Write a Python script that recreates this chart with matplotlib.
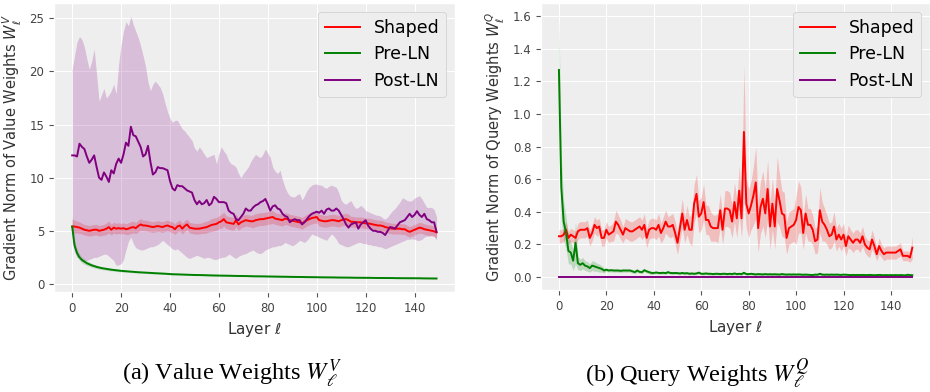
import numpy as np
import matplotlib
matplotlib.use("Agg")
import matplotlib.pyplot as plt

# layers 0..149
layers = np.arange(150)

# ---- (a) value weights ----
v_shaped_mean = [
    5.4, 5.4, 5.35, 5.3, 5.2, 5.1, 5.05, 5.0, 5.05, 5.1,
    5.1, 5.0, 5.05, 5.1, 5.2, 5.35, 5.1, 5.3, 5.2, 5.25,
    5.2, 5.25, 5.15, 5.2, 5.3, 5.35, 5.25, 5.45, 5.6, 5.5,
    5.5, 5.45, 5.4, 5.35, 5.4, 5.45, 5.4, 5.35, 5.45, 5.5,
    5.4, 5.35, 5.15, 5.4, 5.5, 5.2, 5.45, 5.6, 5.3, 5.25,
    5.2, 5.2, 5.2, 5.25, 5.3, 5.35, 5.45, 5.55, 5.6, 5.65,
    5.8, 5.9, 6.1, 5.8, 5.75, 5.7, 5.65, 6.0, 5.6, 5.8,
    5.9, 6.0, 5.95, 5.9, 5.9, 6.0, 6.05, 6.1, 6.1, 6.15,
    6.2, 6.25, 6.3, 6.15, 6.1, 6.05, 6.0, 6.15, 6.1, 6.0,
    5.95, 5.9, 5.85, 5.8, 5.7, 5.85, 6.0, 6.1, 6.2, 6.25,
    6.3, 6.0, 5.95, 5.9, 5.9, 5.95, 6.0, 6.0, 5.95, 5.9,
    6.0, 6.05, 6.1, 6.0, 5.85, 5.85, 5.8, 5.8, 5.8, 5.75,
    5.7, 5.7, 5.65, 5.6, 5.55, 5.5, 5.5, 5.45, 5.35, 5.3,
    5.25, 5.2, 5.2, 5.2, 5.2, 5.15, 5.15, 5.0, 4.9, 5.0,
    5.1, 5.2, 5.3, 5.25, 5.15, 5.1, 5.05, 5.0, 4.95, 4.85]
v_shaped_err = [
    0.7, 0.6, 0.55, 0.55, 0.5, 0.5, 0.5, 0.5, 0.5, 0.5,
    0.5, 0.5, 0.5, 0.5, 0.55, 0.55, 0.5, 0.5, 0.5, 0.5,
    0.5, 0.5, 0.5, 0.55, 0.55, 0.55, 0.5, 0.55, 0.55, 0.5,
    0.5, 0.5, 0.5, 0.5, 0.5, 0.5, 0.5, 0.5, 0.5, 0.5,
    0.5, 0.5, 0.5, 0.5, 0.5, 0.5, 0.5, 0.5, 0.5, 0.5,
    0.5, 0.5, 0.5, 0.5, 0.55, 0.55, 0.55, 0.6, 0.6, 0.6,
    0.6, 0.65, 0.65, 0.6, 0.6, 0.6, 0.6, 0.6, 0.55, 0.55,
    0.55, 0.55, 0.55, 0.55, 0.6, 0.6, 0.6, 0.6, 0.6, 0.6,
    0.6, 0.6, 0.6, 0.55, 0.55, 0.55, 0.55, 0.55, 0.55, 0.55,
    0.55, 0.55, 0.55, 0.55, 0.55, 0.55, 0.55, 0.55, 0.55, 0.55,
    0.55, 0.55, 0.55, 0.55, 0.55, 0.55, 0.55, 0.55, 0.55, 0.55,
    0.55, 0.55, 0.55, 0.55, 0.5, 0.5, 0.5, 0.5, 0.5, 0.5,
    0.5, 0.5, 0.5, 0.5, 0.5, 0.5, 0.5, 0.5, 0.5, 0.5,
    0.5, 0.5, 0.5, 0.5, 0.5, 0.5, 0.5, 0.5, 0.5, 0.5,
    0.5, 0.5, 0.5, 0.5, 0.5, 0.5, 0.5, 0.5, 0.5, 0.5]

v_pre_mean = [
    5.4, 3.6, 2.9, 2.5, 2.25, 2.1, 1.95, 1.85, 1.75, 1.67,
    1.6, 1.54, 1.49, 1.45, 1.41, 1.37, 1.34, 1.31, 1.28, 1.25,
    1.23, 1.21, 1.19, 1.17, 1.15, 1.13, 1.12, 1.10, 1.09, 1.07,
    1.06, 1.05, 1.03, 1.02, 1.01, 1.00, 0.99, 0.97, 0.96, 0.94,
    0.92, 0.91, 0.91, 0.90, 0.89, 0.88, 0.87, 0.87, 0.86, 0.85,
    0.84, 0.84, 0.83, 0.83, 0.82, 0.81, 0.81, 0.80, 0.80, 0.79,
    0.78, 0.78, 0.78, 0.77, 0.77, 0.76, 0.76, 0.75, 0.75, 0.74,
    0.74, 0.74, 0.73, 0.73, 0.72, 0.72, 0.71, 0.71, 0.71, 0.70,
    0.70, 0.70, 0.69, 0.69, 0.68, 0.68, 0.68, 0.67, 0.67, 0.66,
    0.66, 0.66, 0.65, 0.65, 0.65, 0.64, 0.64, 0.64, 0.63, 0.63,
    0.63, 0.62, 0.62, 0.62, 0.61, 0.61, 0.61, 0.61, 0.60, 0.60,
    0.60, 0.60, 0.59, 0.59, 0.59, 0.58, 0.58, 0.58, 0.58, 0.57,
    0.57, 0.57, 0.57, 0.56, 0.56, 0.56, 0.56, 0.55, 0.55, 0.55,
    0.55, 0.55, 0.54, 0.54, 0.54, 0.54, 0.54, 0.53, 0.53, 0.53,
    0.53, 0.53, 0.53, 0.52, 0.52, 0.52, 0.52, 0.52, 0.51, 0.51]
v_pre_err = [
    1.0, 0.45, 0.35, 0.3, 0.27, 0.25, 0.22, 0.2, 0.18, 0.17,
    0.16, 0.15, 0.14, 0.13, 0.13, 0.12, 0.12, 0.11, 0.11, 0.1,
    0.1, 0.1, 0.09, 0.09, 0.09, 0.09, 0.08, 0.08, 0.08, 0.08,
    0.08, 0.07, 0.07, 0.07, 0.07, 0.07, 0.07, 0.07, 0.07, 0.07,
    0.06, 0.06, 0.06, 0.06, 0.06, 0.06, 0.06, 0.06, 0.06, 0.06,
    0.06, 0.06, 0.06, 0.06, 0.06, 0.06, 0.06, 0.06, 0.06, 0.06,
    0.05, 0.05, 0.05, 0.05, 0.05, 0.05, 0.05, 0.05, 0.05, 0.05,
    0.05, 0.05, 0.05, 0.05, 0.05, 0.05, 0.05, 0.05, 0.05, 0.05,
    0.05, 0.05, 0.05, 0.05, 0.05, 0.05, 0.05, 0.05, 0.05, 0.05,
    0.05, 0.05, 0.05, 0.05, 0.05, 0.05, 0.05, 0.05, 0.05, 0.05,
    0.04, 0.04, 0.04, 0.04, 0.04, 0.04, 0.04, 0.04, 0.04, 0.04,
    0.04, 0.04, 0.04, 0.04, 0.04, 0.04, 0.04, 0.04, 0.04, 0.04,
    0.04, 0.04, 0.04, 0.04, 0.04, 0.04, 0.04, 0.04, 0.04, 0.04,
    0.04, 0.04, 0.04, 0.04, 0.04, 0.04, 0.04, 0.04, 0.04, 0.04,
    0.04, 0.04, 0.04, 0.04, 0.04, 0.04, 0.04, 0.04, 0.04, 0.04]

v_post_mean = [
    12.1, 12.1, 12.0, 13.2, 12.9, 12.7, 12.0, 11.4, 11.7, 12.1,
    11.0, 10.0, 9.8, 10.5, 10.1, 9.6, 10.7, 10.4, 11.3, 11.8,
    11.4, 12.2, 13.3, 13.0, 14.8, 14.0, 13.9, 13.4, 12.9, 12.0,
    12.2, 13.0, 11.5, 10.3, 10.5, 11.0, 10.9, 10.9, 10.8, 10.7,
    9.7, 9.0, 8.8, 9.3, 9.2, 9.2, 9.0, 8.8, 8.7, 8.6,
    7.9, 7.5, 7.8, 7.5, 7.6, 7.9, 7.4, 7.6, 8.2, 8.0,
    7.7, 7.7, 7.7, 7.6, 6.9, 6.7, 6.6, 6.1, 6.0, 6.3,
    6.6, 7.1, 6.9, 6.9, 7.2, 7.4, 7.5, 7.7, 7.8, 8.0,
    7.5, 6.9, 7.3, 7.4, 7.1, 7.0, 6.6, 6.4, 6.3, 5.8,
    6.0, 6.1, 6.0, 6.0, 5.6, 5.8, 6.1, 6.4, 6.6, 6.7,
    6.8, 6.7, 6.9, 6.6, 7.0, 7.1, 6.9, 6.9, 7.1, 6.9,
    6.5, 6.1, 5.6, 5.3, 5.6, 5.7, 5.8, 5.2, 5.6, 5.8,
    6.0, 5.5, 5.2, 5.0, 5.0, 4.9, 4.9, 4.8, 4.6, 5.0,
    5.35, 5.3, 5.2, 5.5, 5.8, 5.9, 6.0, 6.3, 6.6, 6.3,
    6.5, 6.85, 6.5, 6.3, 6.6, 6.1, 6.0, 5.8, 5.8, 4.9]
v_post_hi = [
    20.2, 21.5, 22.8, 23.3, 23.0, 22.3, 21.2, 20.2, 21.0, 22.1,
    19.7, 17.2, 17.8, 18.4, 17.5, 17.8, 18.2, 18.8, 17.9, 20.7,
    22.5, 23.8, 24.7, 24.3, 25.2, 24.4, 23.8, 23.2, 22.4, 21.5,
    20.5, 19.0, 18.2, 18.8, 19.1, 18.8, 18.5, 17.9, 17.0, 16.2,
    15.6, 15.2, 15.4, 15.4, 15.0, 14.6, 14.4, 14.1, 13.8, 13.5,
    12.8, 12.5, 12.9, 12.6, 12.2, 11.9, 12.0, 12.1, 12.2, 11.3,
    12.3, 12.9, 12.5, 12.2, 11.6, 11.3, 11.2, 11.0, 10.4, 10.0,
    10.4, 10.7, 11.0, 11.5, 11.9, 12.2, 12.0, 11.9, 12.2, 12.7,
    12.3, 11.9, 11.0, 10.6, 10.4, 10.7, 9.8, 9.1, 8.6, 8.3,
    8.2, 8.2, 8.4, 8.5, 7.9, 8.3, 8.8, 9.1, 9.3, 9.4,
    9.4, 9.3, 9.3, 9.1, 9.0, 9.2, 9.3, 9.2, 9.1, 8.6,
    7.9, 7.6, 7.5, 7.7, 7.85, 7.4, 7.1, 7.2, 7.4, 7.2,
    6.9, 6.8, 6.7, 6.6, 6.5, 6.45, 6.4, 6.2, 6.1, 6.3,
    6.6, 6.9, 7.1, 7.4, 7.7, 8.1, 8.0, 7.85, 7.8, 7.85,
    8.1, 8.2, 8.3, 8.0, 7.6, 7.2, 7.2, 7.2, 7.0, 6.3]
v_post_lo = [
    4.0, 3.0, 2.5, 2.5, 2.3, 2.2, 2.2, 2.3, 2.4, 2.5,
    2.5, 2.6, 2.7, 2.8, 2.8, 2.6, 2.4, 2.2, 1.75, 1.8,
    1.9, 2.3, 3.2, 4.0, 4.4, 3.8, 3.4, 3.3, 3.2, 3.2,
    3.3, 3.4, 3.5, 3.5, 3.6, 3.7, 3.9, 4.1, 3.9, 3.7,
    3.5, 3.3, 3.2, 3.3, 3.1, 2.9, 2.7, 2.5, 2.4, 2.5,
    2.6, 2.7, 2.6, 2.5, 2.4, 2.5, 2.5, 2.4, 2.3, 2.3,
    2.4, 2.5, 2.5, 2.6, 2.8, 2.7, 2.5, 2.4, 2.6, 2.7,
    2.8, 2.85, 3.0, 3.1, 3.2, 3.0, 2.9, 2.85, 3.0, 3.2,
    3.3, 3.4, 3.5, 3.5, 3.6, 3.6, 3.7, 3.9, 3.8, 3.7,
    3.6, 3.7, 3.9, 4.1, 4.0, 3.9, 4.1, 4.4, 4.7, 4.6,
    4.5, 4.4, 4.3, 4.2, 4.1, 4.4, 4.7, 4.5, 4.2, 3.8,
    3.7, 3.6, 3.5, 3.5, 3.6, 3.7, 3.8, 3.9, 3.9, 3.8,
    3.8, 3.7, 3.7, 3.6, 3.6, 3.5, 3.5, 3.4, 3.3, 3.4,
    3.5, 3.6, 3.7, 3.8, 3.9, 4.0, 4.1, 4.2, 4.2, 4.25,
    4.2, 4.1, 4.1, 4.2, 4.4, 4.5, 4.5, 4.6, 4.5, 4.1]

# ---- (b) query weights ----
q_shaped_mean = [
    0.25, 0.25, 0.26, 0.29, 0.24, 0.26, 0.25, 0.24, 0.28, 0.29,
    0.29, 0.29, 0.30, 0.24, 0.27, 0.32, 0.30, 0.31, 0.24, 0.24,
    0.29, 0.26, 0.27, 0.28, 0.34, 0.32, 0.29, 0.26, 0.30, 0.29,
    0.28, 0.28, 0.29, 0.30, 0.31, 0.29, 0.32, 0.24, 0.29, 0.30,
    0.30, 0.29, 0.32, 0.27, 0.30, 0.34, 0.31, 0.31, 0.32, 0.27,
    0.21, 0.30, 0.39, 0.29, 0.35, 0.29, 0.29, 0.45, 0.51, 0.37,
    0.39, 0.46, 0.35, 0.35, 0.31, 0.30, 0.30, 0.30, 0.41, 0.29,
    0.42, 0.42, 0.41, 0.34, 0.46, 0.36, 0.53, 0.36, 0.89, 0.45,
    0.39, 0.44, 0.50, 0.58, 0.30, 0.43, 0.48, 0.39, 0.54, 0.31,
    0.45, 0.31, 0.54, 0.47, 0.39, 0.38, 0.24, 0.30, 0.31, 0.32,
    0.35, 0.43, 0.41, 0.27, 0.39, 0.32, 0.32, 0.29, 0.22, 0.23,
    0.41, 0.34, 0.32, 0.29, 0.25, 0.26, 0.31, 0.23, 0.26, 0.23,
    0.26, 0.19, 0.25, 0.23, 0.21, 0.23, 0.23, 0.21, 0.25, 0.20,
    0.18, 0.17, 0.23, 0.19, 0.14, 0.19, 0.16, 0.14, 0.15, 0.15,
    0.15, 0.15, 0.15, 0.16, 0.17, 0.13, 0.13, 0.13, 0.12, 0.18]
q_shaped_err = [
    0.04, 0.04, 0.04, 0.05, 0.04, 0.04, 0.04, 0.04, 0.05, 0.05,
    0.05, 0.05, 0.05, 0.05, 0.05, 0.05, 0.05, 0.05, 0.05, 0.05,
    0.05, 0.05, 0.05, 0.06, 0.07, 0.06, 0.06, 0.05, 0.06, 0.06,
    0.06, 0.06, 0.06, 0.06, 0.06, 0.06, 0.07, 0.06, 0.06, 0.06,
    0.06, 0.06, 0.07, 0.06, 0.07, 0.07, 0.06, 0.07, 0.07, 0.07,
    0.07, 0.08, 0.09, 0.08, 0.09, 0.08, 0.10, 0.12, 0.12, 0.10,
    0.10, 0.11, 0.09, 0.09, 0.09, 0.08, 0.08, 0.09, 0.10, 0.09,
    0.11, 0.11, 0.11, 0.10, 0.12, 0.12, 0.15, 0.12, 0.41, 0.15,
    0.15, 0.15, 0.18, 0.22, 0.15, 0.16, 0.17, 0.15, 0.18, 0.14,
    0.16, 0.14, 0.20, 0.16, 0.14, 0.14, 0.10, 0.10, 0.10, 0.10,
    0.15, 0.16, 0.14, 0.10, 0.12, 0.10, 0.10, 0.09, 0.08, 0.08,
    0.14, 0.12, 0.10, 0.09, 0.08, 0.08, 0.09, 0.07, 0.07, 0.07,
    0.07, 0.06, 0.07, 0.06, 0.06, 0.06, 0.06, 0.06, 0.06, 0.05,
    0.05, 0.05, 0.06, 0.05, 0.04, 0.05, 0.04, 0.04, 0.04, 0.04,
    0.04, 0.04, 0.04, 0.04, 0.04, 0.03, 0.03, 0.03, 0.03, 0.07]

q_pre_mean = [
    1.27, 0.55, 0.34, 0.27, 0.16, 0.15, 0.10, 0.21, 0.085, 0.075,
    0.085, 0.07, 0.065, 0.055, 0.07, 0.065, 0.06, 0.055, 0.05, 0.04,
    0.045, 0.04, 0.042, 0.04, 0.04, 0.04, 0.038, 0.04, 0.04, 0.04,
    0.04, 0.035, 0.03, 0.04, 0.032, 0.03, 0.042, 0.035, 0.03, 0.025,
    0.025, 0.028, 0.025, 0.025, 0.026, 0.024, 0.03, 0.025, 0.024, 0.025,
    0.024, 0.022, 0.025, 0.022, 0.024, 0.02, 0.022, 0.02, 0.022, 0.027,
    0.02, 0.02, 0.022, 0.02, 0.02, 0.018, 0.02, 0.02, 0.018, 0.02,
    0.02, 0.018, 0.02, 0.018, 0.022, 0.018, 0.02, 0.018, 0.026, 0.018,
    0.018, 0.02, 0.018, 0.016, 0.018, 0.017, 0.016, 0.018, 0.016, 0.017,
    0.016, 0.017, 0.016, 0.015, 0.018, 0.016, 0.015, 0.016, 0.015, 0.016,
    0.015, 0.016, 0.015, 0.014, 0.015, 0.014, 0.013, 0.012, 0.015, 0.014,
    0.02, 0.015, 0.014, 0.015, 0.014, 0.015, 0.014, 0.015, 0.014, 0.013,
    0.015, 0.014, 0.013, 0.012, 0.013, 0.012, 0.013, 0.012, 0.013, 0.012,
    0.012, 0.013, 0.012, 0.011, 0.012, 0.013, 0.012, 0.011, 0.012, 0.011,
    0.012, 0.011, 0.012, 0.011, 0.012, 0.011, 0.01, 0.014, 0.012, 0.011]
q_pre_err = [
    0.33, 0.2, 0.12, 0.1, 0.08, 0.07, 0.06, 0.13, 0.04, 0.035,
    0.035, 0.03, 0.03, 0.025, 0.03, 0.03, 0.025, 0.025, 0.02, 0.015,
    0.01, 0.01, 0.01, 0.01, 0.01, 0.01, 0.01, 0.01, 0.01, 0.01,
    0.01, 0.01, 0.01, 0.01, 0.01, 0.01, 0.01, 0.01, 0.01, 0.01,
    0.008, 0.008, 0.008, 0.008, 0.008, 0.008, 0.008, 0.008, 0.008, 0.008,
    0.008, 0.008, 0.008, 0.008, 0.008, 0.008, 0.008, 0.008, 0.008, 0.008,
    0.008, 0.008, 0.008, 0.008, 0.008, 0.008, 0.008, 0.008, 0.008, 0.008,
    0.008, 0.008, 0.008, 0.008, 0.008, 0.008, 0.008, 0.008, 0.008, 0.008,
    0.008, 0.008, 0.008, 0.008, 0.008, 0.008, 0.008, 0.008, 0.008, 0.008,
    0.008, 0.008, 0.008, 0.008, 0.008, 0.008, 0.008, 0.008, 0.008, 0.008,
    0.008, 0.008, 0.008, 0.008, 0.008, 0.008, 0.008, 0.008, 0.008, 0.008,
    0.008, 0.008, 0.008, 0.008, 0.008, 0.008, 0.008, 0.008, 0.008, 0.008,
    0.008, 0.008, 0.008, 0.008, 0.008, 0.008, 0.008, 0.008, 0.008, 0.008,
    0.008, 0.008, 0.008, 0.008, 0.008, 0.008, 0.008, 0.008, 0.008, 0.008,
    0.008, 0.008, 0.008, 0.008, 0.008, 0.008, 0.008, 0.008, 0.008, 0.008]

# post-LN query gradient sits on zero the whole way
q_post_mean = [0.0] * 150


plt.style.use('ggplot')
plt.rcParams['axes.facecolor'] = '#EEEEEE'
plt.rcParams['xtick.labelcolor'] = '#444444'
plt.rcParams['ytick.labelcolor'] = '#444444'
plt.rcParams['axes.labelcolor'] = '#333333'


def band(ax, x, mean, err, color):
    m = np.array(mean)
    e = np.array(err)
    ax.fill_between(x, m - e, m + e, color=color, alpha=0.2, linewidth=0)


def style_axes(ax, ylabel):
    ax.set_xlabel(r'Layer $\ell$', fontsize=11)
    ax.set_ylabel(ylabel, fontsize=10.5)
    ax.tick_params(labelsize=8.5)
    ax.set_xticks([0, 20, 40, 60, 80, 100, 120, 140])
    ax.legend(loc='upper right', fontsize=12.5, facecolor='#EEEEEE',
              edgecolor='#CCCCCC', framealpha=1.0)


fig = plt.figure(figsize=(9.3, 3.92), dpi=100)
ax1 = fig.add_axes([0.058, 0.255, 0.431, 0.737])
ax2 = fig.add_axes([0.582, 0.260, 0.418, 0.732])

# (a)
band(ax1, layers, v_shaped_mean, v_shaped_err, 'red')
ax1.plot(layers, v_shaped_mean, color='red', lw=1.4, label='Shaped')
band(ax1, layers, v_pre_mean, v_pre_err, 'green')
ax1.plot(layers, v_pre_mean, color='green', lw=1.4, label='Pre-LN')
ax1.fill_between(layers, v_post_lo, v_post_hi, color='purple', alpha=0.2, linewidth=0)
ax1.plot(layers, v_post_mean, color='purple', lw=1.4, label='Post-LN')
style_axes(ax1, r'Gradient Norm of Value Weights $W_\ell^V$')

# (b)
band(ax2, layers, q_shaped_mean, q_shaped_err, 'red')
ax2.plot(layers, q_shaped_mean, color='red', lw=1.4, label='Shaped')
band(ax2, layers, q_pre_mean, q_pre_err, 'green')
ax2.plot(layers, q_pre_mean, color='green', lw=1.4, label='Pre-LN')
ax2.plot(layers, q_post_mean, color='purple', lw=1.4, label='Post-LN')
ax2.set_yticks([0.0, 0.2, 0.4, 0.6, 0.8, 1.0, 1.2, 1.4, 1.6])
style_axes(ax2, r'Gradient Norm of Query Weights $W_\ell^Q$')

fig.text(232 / 930, 1 - 374 / 392, r'(a) Value Weights $W_\ell^V$', ha='center', va='center',
         fontsize=17.5, family='Liberation Serif', math_fontfamily='stix', color='black')
fig.text(697 / 930, 1 - 374 / 392, r'(b) Query Weights $W_\ell^Q$', ha='center', va='center',
         fontsize=17.5, family='Liberation Serif', math_fontfamily='stix', color='black')

fig.savefig('out.png', dpi=100, facecolor='white')
